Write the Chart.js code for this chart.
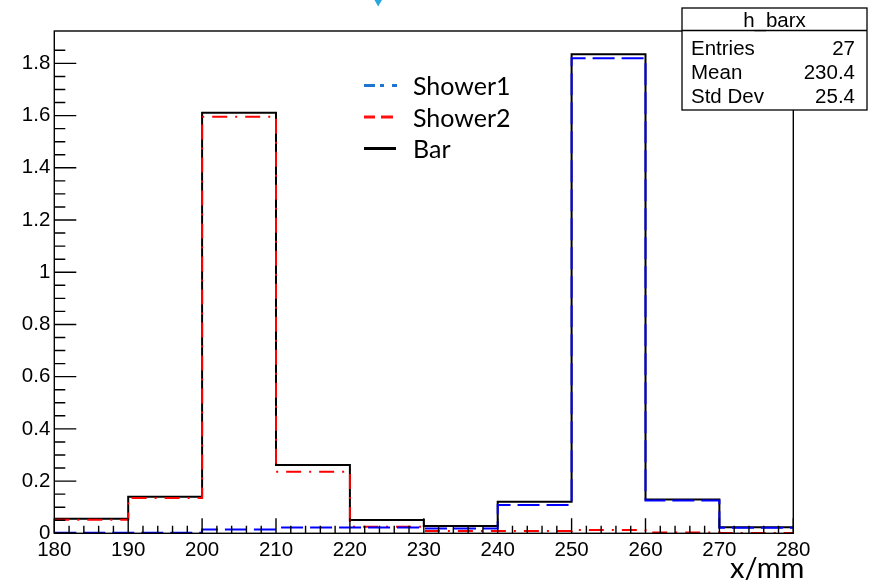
<!DOCTYPE html>
<html>
<head>
<meta charset="utf-8">
<script src="https://cdn.jsdelivr.net/npm/chart.js@4.4.1/dist/chart.umd.min.js"></script>
<style>
  html, body { margin: 0; padding: 0; background: #fff; }
  #wrap { width: 875px; height: 583px; }
</style>
</head>
<body>
<div id="wrap"><canvas id="c" width="875" height="583"></canvas></div>
<script>
// bin lower edges in mm, last bin ends at binHigh
const binLow = [180, 190, 200, 210, 220, 230, 240, 250, 260, 270];
const binHigh = 280;

const barValues     = [0.056, 0.140, 1.611, 0.262, 0.051, 0.028, 0.121, 1.835, 0.129, 0.023];
const shower1Values = [0.002, 0.002, 0.015, 0.022, 0.022, 0.018, 0.108, 1.820, 0.126, 0.021];
const shower2Values = [0.052, 0.135, 1.596, 0.236, 0.025, 0.009, 0.009, 0.013, 0.003, 0.001];

const xMajorTicks = [180, 190, 200, 210, 220, 230, 240, 250, 260, 270, 280];
const yMajorTicks = [0, 0.2, 0.4, 0.6, 0.8, 1, 1.2, 1.4, 1.6, 1.8];
const xMinorStep = 2;
const yMinorStep = 0.05;
const yMax = 1.924;

const statsTitle = "h_barx";
const statsRows = [["Entries", "27"], ["Mean", "230.4"], ["Std Dev", "25.4"]];
const xTitle = "x/mm";

const isOn = (v, list) => list.some(t => Math.abs(t - v) < 1e-6);
const onStep = (v, s) => Math.abs(v / s - Math.round(v / s)) < 1e-6;

// histogram outline: one point per bin edge, stepped
function stepPoints(values) {
  const pts = binLow.map((x, i) => ({ x: x, y: values[i] }));
  pts.push({ x: binHigh, y: values[values.length - 1] });
  return pts;
}

const legendItems = [
  { color: "#1f74cf", dash: [11, 5, 4, 8, 5, 40] },
  { color: "#ff1010", dash: [11, 6, 12, 40] },
  { color: "#000000", dash: [] },
];

const histDecor = {
  id: "histDecor",
  afterDatasetsDraw(chart) {
    const { ctx, chartArea: a, scales: { x, y } } = chart;
    ctx.save();
    ctx.strokeStyle = "#000";
    ctx.lineWidth = 1.4;
    ctx.strokeRect(a.left, a.top, a.right - a.left, a.bottom - a.top);
    ctx.beginPath();
    x.ticks.forEach(t => {
      if (!onStep(t.value, xMinorStep)) return;
      const px = x.getPixelForValue(t.value);
      const len = isOn(t.value, xMajorTicks) ? 15 : 7.5;
      ctx.moveTo(px, a.bottom);
      ctx.lineTo(px, a.bottom - len);
    });
    y.ticks.forEach(t => {
      if (!onStep(t.value, yMinorStep)) return;
      const py = y.getPixelForValue(t.value);
      const len = isOn(t.value, yMajorTicks) ? 22 : 11;
      ctx.moveTo(a.left, py);
      ctx.lineTo(a.left + len, py);
    });
    ctx.stroke();
    ctx.restore();
  },
  afterDraw(chart) {
    const ctx = chart.ctx;
    ctx.save();

    // legend
    const ds = chart.data.datasets;
    const baselines = [95, 126.5, 158];
    ctx.font = "25px Lato";
    ctx.textBaseline = "alphabetic";
    ctx.textAlign = "left";
    legendItems.forEach((it, i) => {
      const ly = baselines[i] - 9.5;
      ctx.strokeStyle = it.color;
      ctx.lineWidth = 3;
      ctx.setLineDash(it.dash);
      ctx.beginPath();
      ctx.moveTo(364, ly);
      ctx.lineTo(i === 0 ? 401 : 396, ly);
      ctx.stroke();
      ctx.setLineDash([]);
      ctx.fillStyle = "#000";
      ctx.fillText(ds[i].label, 413, baselines[i]);
    });

    // stats box
    const bx = 682, by = 8, bw = 185, bh = 102;
    ctx.fillStyle = "#fff";
    ctx.fillRect(bx, by, bw, bh);
    ctx.strokeStyle = "#000";
    ctx.lineWidth = 1.3;
    ctx.strokeRect(bx, by, bw, bh);
    ctx.beginPath();
    ctx.moveTo(bx, 30.5);
    ctx.lineTo(bx + bw, 30.5);
    ctx.stroke();
    ctx.fillStyle = "#000";
    ctx.font = "20.5px 'Liberation Sans'";
    ctx.textAlign = "center";
    ctx.fillText(statsTitle, bx + bw / 2, 26.5);
    const rowBase = [55, 78.5, 103];
    statsRows.forEach((r, i) => {
      ctx.textAlign = "left";
      ctx.fillText(r[0], 691, rowBase[i]);
      ctx.textAlign = "right";
      ctx.fillText(r[1], 855, rowBase[i]);
    });

    // axis title
    ctx.textAlign = "left";
    ctx.font = "29px Lato";
    ctx.fillText(xTitle, 730, 578);

    // small marker at top
    ctx.fillStyle = "#29a8e0";
    ctx.beginPath();
    ctx.moveTo(374.5, 0);
    ctx.lineTo(382, 0);
    ctx.lineTo(378.2, 6.5);
    ctx.closePath();
    ctx.fill();

    ctx.restore();
  }
};

const tickFont = { family: "'Liberation Sans', Arial, sans-serif", size: 20.5 };

new Chart(document.getElementById("c").getContext("2d"), {
  type: "line",
  data: {
    datasets: [
      {
        label: "Shower1",
        data: stepPoints(shower1Values),
        borderColor: "#0000ff",
        borderWidth: 2,
        borderDash: [22, 7],
        stepped: "before",
        pointRadius: 0,
        fill: false,
      },
      {
        label: "Shower2",
        data: stepPoints(shower2Values),
        borderColor: "#ff0000",
        borderWidth: 2,
        borderDash: [15, 8, 2, 8],
        stepped: "before",
        pointRadius: 0,
        fill: false,
      },
      {
        label: "Bar",
        data: stepPoints(barValues),
        borderColor: "#000000",
        borderWidth: 2,
        stepped: "before",
        pointRadius: 0,
        fill: false,
      },
    ],
  },
  options: {
    responsive: false,
    animation: false,
    devicePixelRatio: 1,
    layout: { padding: { left: 0, top: 31, right: 81.7, bottom: 0 } },
    plugins: {
      legend: { display: false },
      tooltip: { enabled: false },
    },
    scales: {
      x: {
        type: "linear",
        min: 180,
        max: 280,
        border: { display: false },
        grid: { display: false, drawTicks: false },
        afterFit: s => { s.height = 49.7; },
        ticks: {
          stepSize: xMinorStep,
          autoSkip: false,
          maxRotation: 0,
          padding: 5,
          color: "#000",
          font: tickFont,
          callback: v => (isOn(v, xMajorTicks) ? String(v) : ""),
        },
      },
      y: {
        min: 0,
        max: yMax,
        border: { display: false },
        grid: { display: false, drawTicks: false },
        afterFit: s => { s.width = 54.3; },
        ticks: {
          stepSize: yMinorStep,
          autoSkip: false,
          padding: 4,
          color: "#000",
          font: tickFont,
          callback: v => (isOn(v, yMajorTicks) ? String(Math.round(v * 10) / 10) : ""),
        },
      },
    },
  },
  plugins: [histDecor],
});
</script>
</body>
</html>
